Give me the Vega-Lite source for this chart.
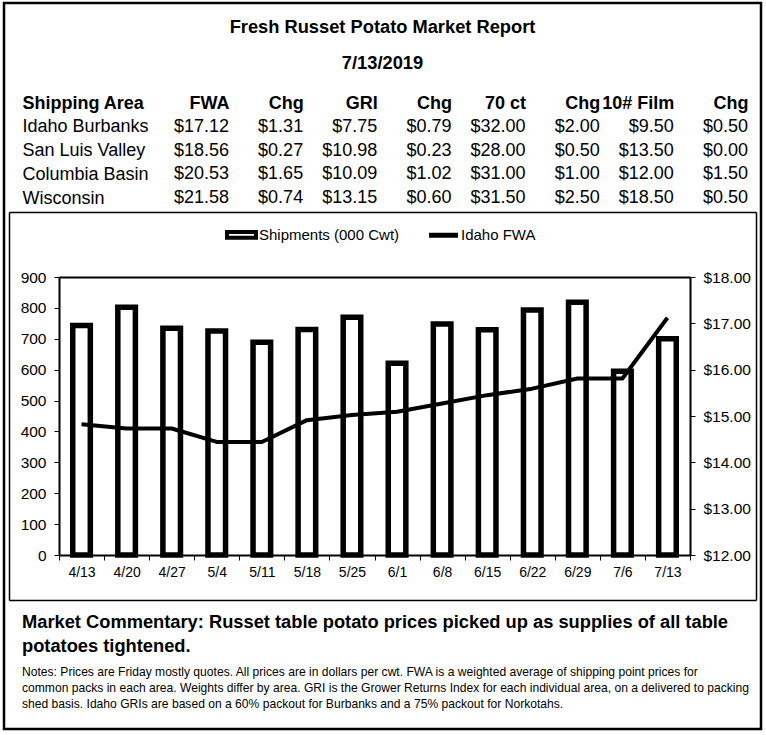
{
  "$schema": "https://vega.github.io/schema/vega-lite/v6.json",
  "width": 766,
  "height": 735,
  "autosize": {"type": "fit", "contains": "padding"},
  "padding": {"left": 4, "top": 3, "right": 5, "bottom": 6},
  "background": "white",
  "config": {
    "font": "Liberation Sans",
    "view": {"stroke": "black", "strokeWidth": 2.5},
    "axis": {"labelColor": "black", "tickColor": "black", "domainColor": "black", "minExtent": 0, "grid": false, "titleColor": "black", "labelFont": "Liberation Sans"},
    "legend": {"labelFont": "Liberation Sans", "labelColor": "black"}
  },
  "datasets": {
    "weekly": [
      {"week": "4/13", "shipments": 743, "idaho_fwa": 14.82},
      {"week": "4/20", "shipments": 802, "idaho_fwa": 14.73},
      {"week": "4/27", "shipments": 734, "idaho_fwa": 14.73},
      {"week": "5/4", "shipments": 725, "idaho_fwa": 14.44},
      {"week": "5/11", "shipments": 689, "idaho_fwa": 14.44},
      {"week": "5/18", "shipments": 730, "idaho_fwa": 14.91},
      {"week": "5/25", "shipments": 770, "idaho_fwa": 15.02},
      {"week": "6/1", "shipments": 621, "idaho_fwa": 15.09},
      {"week": "6/8", "shipments": 748, "idaho_fwa": 15.27},
      {"week": "6/15", "shipments": 729, "idaho_fwa": 15.45},
      {"week": "6/22", "shipments": 793, "idaho_fwa": 15.59},
      {"week": "6/29", "shipments": 818, "idaho_fwa": 15.81},
      {"week": "7/6", "shipments": 595, "idaho_fwa": 15.81},
      {"week": "7/13", "shipments": 700, "idaho_fwa": 17.12}
    ],
    "table": [
      {"area": "Idaho Burbanks", "FWA": 17.12, "FWA_Chg": 1.31, "GRI": 7.75, "GRI_Chg": 0.79, "ct70": 32.00, "ct70_Chg": 2.00, "film10": 9.50, "film10_Chg": 0.50},
      {"area": "San Luis Valley", "FWA": 18.56, "FWA_Chg": 0.27, "GRI": 10.98, "GRI_Chg": 0.23, "ct70": 28.00, "ct70_Chg": 0.50, "film10": 13.50, "film10_Chg": 0.00},
      {"area": "Columbia Basin", "FWA": 20.53, "FWA_Chg": 1.65, "GRI": 10.09, "GRI_Chg": 1.02, "ct70": 31.00, "ct70_Chg": 1.00, "film10": 12.00, "film10_Chg": 1.50},
      {"area": "Wisconsin", "FWA": 21.58, "FWA_Chg": 0.74, "GRI": 13.15, "GRI_Chg": 0.60, "ct70": 31.50, "ct70_Chg": 2.50, "film10": 18.50, "film10_Chg": 0.50}
    ],
    "text": [
      {"block": "header", "line": "Fresh Russet Potato Market Report"},
      {"block": "header", "line": "7/13/2019"},
      {"block": "commentary", "line": "Market Commentary: Russet table potato prices picked up as supplies of all table"},
      {"block": "commentary", "line": "potatoes tightened."},
      {"block": "notes", "line": "Notes: Prices are Friday mostly quotes. All prices are in dollars per cwt. FWA is a weighted average of shipping point prices for"},
      {"block": "notes", "line": "common packs in each area. Weights differ by area. GRI is the Grower Returns Index for each individual area, on a delivered to packing"},
      {"block": "notes", "line": "shed basis. Idaho GRIs are based on a 60% packout for Burbanks and a 75% packout for Norkotahs."}
    ],
    "frame": [{"frame": "inner box"}]
  },
  "layer": [
    {
      "data": {"name": "text"},
      "transform": [{"filter": "datum.block === 'header'"}],
      "mark": {"type": "text", "fontSize": 18.3, "fontWeight": "bold", "baseline": "middle", "align": "center", "color": "black"},
      "encoding": {
        "y": {"field": "line", "type": "nominal", "sort": null, "scale": {"type": "point", "range": [25, 61], "padding": 0}, "axis": null},
        "text": {"field": "line", "type": "nominal"}
      }
    },
    {
      "data": {"name": "table"},
      "transform": [{"fold": ["FWA", "FWA_Chg", "GRI", "GRI_Chg", "ct70", "ct70_Chg", "film10", "film10_Chg"], "as": ["col", "value"]}],
      "mark": {"type": "text", "fontSize": 18, "align": "right", "baseline": "middle", "color": "black"},
      "encoding": {
        "x": {
          "field": "col", "type": "nominal",
          "scale": {"type": "point", "domain": ["FWA", "FWA_Chg", "GRI", "GRI_Chg", "ct70", "ct70_Chg", "film10", "film10_Chg"], "range": [225, 744], "padding": 0},
          "axis": {"orient": "top", "offset": -100, "title": null, "domain": false, "ticks": false, "tickSize": 0, "labelPadding": 0, "labelAngle": 0, "labelAlign": "right", "labelBaseline": "middle", "labelFontSize": 18, "labelFontWeight": "bold",
            "labelExpr": "datum.value == 'ct70' ? '70 ct' : datum.value == 'film10' ? '10# Film' : indexof(datum.value, 'Chg') > 0 ? 'Chg' : datum.value"}
        },
        "y": {
          "field": "area", "type": "nominal",
          "scale": {"type": "point", "domain": ["Shipping Area", "Idaho Burbanks", "San Luis Valley", "Columbia Basin", "Wisconsin"], "range": [100, 195], "padding": 0},
          "axis": {"orient": "left", "offset": -18, "title": null, "domain": false, "ticks": false, "tickSize": 0, "labelPadding": 0, "labelAlign": "left", "labelBaseline": "middle", "labelFontSize": 18, "labelLimit": 0,
            "labelFontWeight": {"condition": {"test": "datum.value === 'Shipping Area'", "value": "bold"}, "value": "normal"}}
        },
        "text": {"field": "value", "type": "quantitative", "format": "$.2f"}
      }
    },
    {
      "data": {"name": "weekly"},
      "layer": [
        {
          "mark": {"type": "bar", "fill": "white", "strokeWidth": 5.5, "width": {"band": 0.39}},
          "encoding": {
            "x": {"field": "week", "type": "ordinal", "sort": null,
              "scale": {"type": "band", "range": [55, 686], "paddingInner": 0, "paddingOuter": 0},
              "axis": {"orient": "bottom", "offset": -174, "title": null, "labelAngle": 0, "labelFontSize": 14, "tickSize": 5, "tickBand": "extent", "labelPadding": 5, "domainWidth": 2}},
            "y": {"field": "shipments", "type": "quantitative",
              "scale": {"domain": [0, 900], "range": [552, 274], "nice": false, "zero": true},
              "axis": {"orient": "left", "offset": -55, "values": [0, 100, 200, 300, 400, 500, 600, 700, 800, 900], "title": null, "labelFontSize": 15.5, "tickSize": 5, "labelPadding": 8, "domainWidth": 2}},
            "stroke": {"datum": "Shipments (000 Cwt)", "type": "nominal",
              "scale": {"domain": ["Shipments (000 Cwt)", "Idaho FWA"], "range": ["black", "black"]},
              "legend": {"orient": "none", "legendX": 230, "legendY": 224, "direction": "horizontal", "title": null, "labelFontSize": 15, "symbolSize": 841, "columnPadding": 19, "labelOffset": 10,
                "encode": {"symbols": {"update": {
                  "shape": {"signal": "datum.value === 'Idaho FWA' ? 'stroke' : 'M-1,-0.19H1V0.19H-1Z'"},
                  "fill": {"value": "white"},
                  "stroke": {"value": "black"},
                  "strokeWidth": {"signal": "datum.value === 'Idaho FWA' ? 5 : 4"}
                }}}}}
          }
        },
        {
          "mark": {"type": "line", "strokeWidth": 4, "strokeJoin": "round"},
          "encoding": {
            "x": {"field": "week", "type": "ordinal", "sort": null,
              "axis": {"orient": "top", "offset": -274, "title": null, "labels": false, "ticks": false, "domainWidth": 2}},
            "y": {"field": "idaho_fwa", "type": "quantitative",
              "scale": {"domain": [12, 18], "range": [552, 274], "nice": false, "zero": false},
              "axis": {"orient": "right", "offset": -71, "values": [12, 13, 14, 15, 16, 17, 18], "format": "$.2f", "title": null, "labelFontSize": 15.5, "tickSize": 5, "labelPadding": 8, "domainWidth": 2}},
            "stroke": {"datum": "Idaho FWA", "type": "nominal",
              "legend": {"orient": "none", "legendX": 230, "legendY": 224, "direction": "horizontal", "title": null, "labelFontSize": 15, "symbolSize": 841, "columnPadding": 19, "labelOffset": 10,
                "encode": {"symbols": {"update": {
                  "shape": {"signal": "datum.value === 'Idaho FWA' ? 'stroke' : 'M-1,-0.19H1V0.19H-1Z'"},
                  "fill": {"value": "white"},
                  "stroke": {"value": "black"},
                  "strokeWidth": {"signal": "datum.value === 'Idaho FWA' ? 5 : 4"}
                }}}}}
          }
        }
      ],
      "resolve": {"scale": {"y": "independent"}, "axis": {"x": "independent", "y": "independent"}}
    },
    {
      "data": {"name": "frame"},
      "mark": {"type": "point", "opacity": 0},
      "encoding": {
        "x": {"datum": 0, "type": "quantitative", "scale": {"domain": [0, 1], "range": [5, 752], "nice": false},
          "axis": {"orient": "top", "offset": -209, "title": null, "labels": false, "ticks": false, "domainWidth": 1.5}},
        "y": {"datum": 0, "type": "quantitative", "scale": {"domain": [0, 1], "range": [597, 209], "nice": false},
          "axis": {"orient": "left", "offset": -5, "title": null, "labels": false, "ticks": false, "domainWidth": 1.5}}
      }
    },
    {
      "data": {"name": "frame"},
      "mark": {"type": "point", "opacity": 0},
      "encoding": {
        "x": {"datum": 0, "type": "quantitative", "scale": {"domain": [0, 1], "range": [5, 752], "nice": false},
          "axis": {"orient": "bottom", "offset": -129, "title": null, "labels": false, "ticks": false, "domainWidth": 1.5}},
        "y": {"datum": 0, "type": "quantitative", "scale": {"domain": [0, 1], "range": [597, 209], "nice": false},
          "axis": {"orient": "right", "offset": -5, "title": null, "labels": false, "ticks": false, "domainWidth": 1.5}}
      }
    },
    {
      "data": {"name": "text"},
      "transform": [{"filter": "datum.block === 'commentary'"}],
      "mark": {"type": "text", "fontSize": 18.3, "fontWeight": "bold", "align": "left", "baseline": "middle", "color": "black"},
      "encoding": {
        "x": {"field": "block", "type": "nominal", "scale": {"type": "point", "range": [18, 18]}, "axis": null},
        "y": {"field": "line", "type": "nominal", "sort": null, "scale": {"type": "point", "range": [620, 644], "padding": 0}, "axis": null},
        "text": {"field": "line", "type": "nominal"}
      }
    },
    {
      "data": {"name": "text"},
      "transform": [{"filter": "datum.block === 'notes'"}],
      "mark": {"type": "text", "fontSize": 12.1, "align": "left", "baseline": "middle", "color": "black"},
      "encoding": {
        "x": {"field": "block", "type": "nominal", "scale": {"type": "point", "range": [18, 18]}, "axis": null},
        "y": {"field": "line", "type": "nominal", "sort": null, "scale": {"type": "point", "range": [669, 701], "padding": 0}, "axis": null},
        "text": {"field": "line", "type": "nominal"}
      }
    }
  ],
  "resolve": {"scale": {"x": "independent", "y": "independent"}, "axis": {"x": "independent", "y": "independent"}}
}
